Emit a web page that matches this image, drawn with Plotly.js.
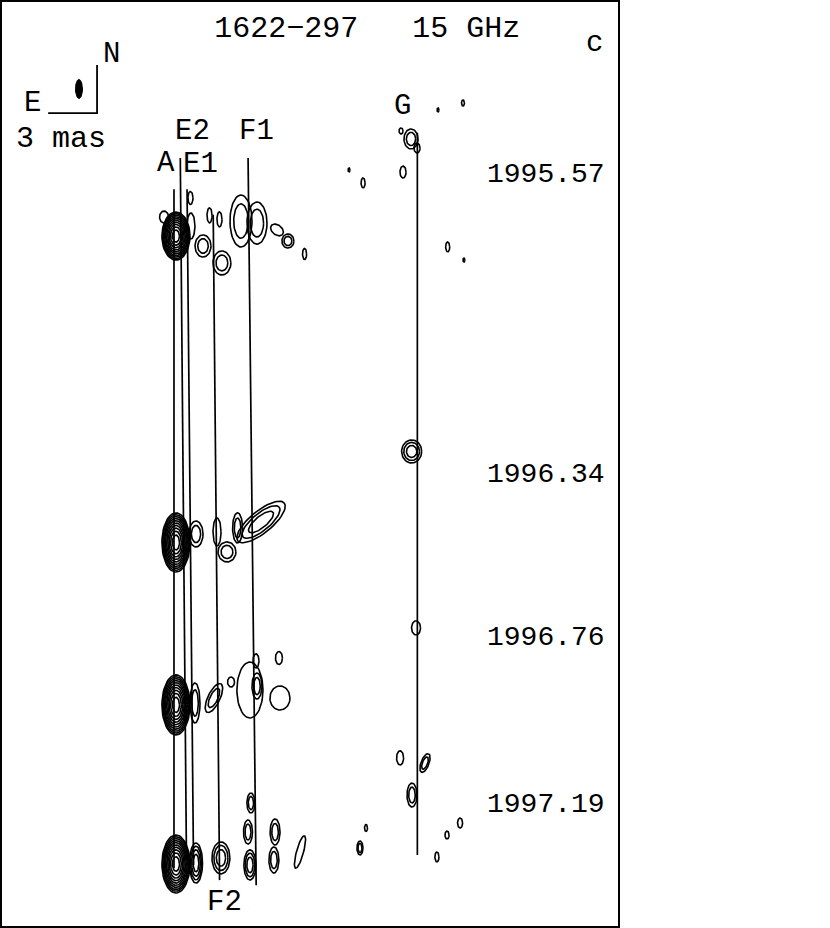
<!DOCTYPE html>
<html>
<head>
<meta charset="utf-8">
<script src="https://cdn.plot.ly/plotly-3.0.1.min.js"></script>
<style>html,body{margin:0;padding:0;background:#fff;}#chart{width:830px;height:928px;}</style>
</head>
<body>
<div id="chart"></div>
<script>
// ---- data (RA offset east-positive in mas, Dec offset in mas, epoch in years) ----
const epochs = [1995.57, 1996.34, 1996.76, 1997.19];
const epochLabels = ['1995.57', '1996.34', '1996.76', '1997.19'];

// component tracks: RA at first and last epoch, and time extent of drawn track
const compNames = ['A', 'E2', 'E1', 'F2', 'F1', 'G'];
const raFirst   = [0.00, -0.43, -0.83, -2.42, -4.60, -14.93];
const raLast    = [0.00, -0.77, -1.20, -2.79, -5.03, -14.93];
const trackFrom = [1995.442, 1995.362, 1995.442, 1995.508, 1995.362, 1995.297];
const trackTo   = [1997.189, 1997.168, 1997.181, 1997.220, 1997.233, 1997.155];

// contour components per epoch: [RA, Dec, width, height, angle(deg), contour levels]
const blobs1995_57 = [
  [-0.12, 0.18, 1.72, 3.00, 0, 10], [0.61, 1.37, 0.55, 0.75, 0, 1], [-1.04, 0.81, 0.49, 1.62, 0, 1],
  [-1.01, 2.56, 0.31, 0.81, 0, 1], [-2.18, 1.47, 0.31, 0.94, 0, 1], [-2.79, 1.22, 0.31, 0.94, 0, 1],
  [-1.78, -0.44, 0.98, 1.38, 0, 2], [-2.94, -1.50, 1.10, 1.50, 0, 2], [-4.11, 1.12, 1.35, 3.25, 0, 2],
  [-5.09, 0.99, 1.23, 2.63, 0, 2], [-6.32, 0.56, 0.88, 0.61, -40, 1], [-6.99, -0.13, 0.74, 0.88, 0, 2],
  [-8.01, -0.94, 0.25, 0.69, 0, 1], [-11.60, 3.50, 0.25, 0.62, 0, 1], [-14.05, 4.18, 0.37, 0.75, 0, 1],
  [-14.54, 6.25, 0.86, 1.25, 0, 2], [-13.93, 6.75, 0.25, 0.38, 0, 1], [-14.91, 5.68, 0.37, 0.62, 0, 1],
  [-17.73, 8.50, 0.18, 0.38, 0, 1], [-16.79, -0.50, 0.25, 0.62, 0, 1], [-10.74, 4.31, 0.12, 0.25, 0, 1],
  [-16.20, 8.06, 0.12, 0.25, 0, 1], [-17.79, -1.32, 0.12, 0.25, 0, 1]
];
const blobs1996_34 = [
  [-0.12, -0.27, 1.72, 3.69, 0, 10], [-1.35, 0.26, 0.86, 1.62, 0, 2], [-2.64, 0.39, 0.49, 1.75, 0, 1],
  [-3.25, -0.86, 1.10, 1.25, 0, 2], [-3.90, 0.64, 0.61, 1.88, 0, 2], [-5.34, 1.01, 3.70, 1.36, 40, 3],
  [-14.58, 5.42, 1.23, 1.44, 0, 3]
];
const blobs1996_76 = [
  [-0.12, -0.22, 1.72, 3.75, 0, 10], [-1.29, -0.10, 0.61, 2.50, 0, 2], [-2.45, 0.21, 1.97, 0.74, 65, 2],
  [-3.50, 1.21, 0.43, 0.62, 0, 1], [-4.66, 0.71, 1.60, 3.50, 0, 1], [-5.09, 0.96, 0.61, 1.62, 0, 2],
  [-5.03, 2.53, 0.37, 0.88, 0, 1], [-6.50, 0.21, 1.23, 1.50, 0, 1], [-6.44, 2.71, 0.43, 0.81, 0, 1],
  [-14.85, 4.59, 0.55, 0.88, 0, 1]
];
const blobs1997_19 = [
  [-0.12, 0.28, 1.72, 3.62, 0, 10], [-1.35, 0.34, 0.80, 2.50, 0, 4], [-2.88, 0.66, 1.10, 2.00, 0, 3],
  [-4.72, 4.09, 0.49, 1.25, 0, 2], [-4.54, 2.28, 0.55, 1.50, 0, 2], [-4.66, 0.22, 0.74, 1.88, 0, 3],
  [-6.20, 2.28, 0.61, 1.62, 0, 2], [-6.13, 0.53, 0.61, 1.62, 0, 2], [-7.73, 1.03, 2.10, 0.43, 75, 1],
  [-11.78, 2.53, 0.18, 0.44, 0, 1], [-11.41, 1.28, 0.37, 0.88, 0, 2], [-13.87, 6.91, 0.43, 0.88, 0, 1],
  [-15.40, 6.59, 1.23, 0.49, 70, 2], [-14.60, 4.59, 0.61, 1.50, 0, 2], [-17.55, 2.84, 0.31, 0.62, 0, 1],
  [-16.75, 2.09, 0.25, 0.50, 0, 1], [-16.13, 0.72, 0.25, 0.62, 0, 1]
];
const blobsByEpoch = [blobs1995_57, blobs1996_34, blobs1996_76, blobs1997_19];

// restoring beam (mas) and scale bar length (mas)
const beamMaj = 1.19, beamMin = 0.43;
const scaleBarMas = 3;

// ---- layout constants ----
const decToYear = 16 / 388.6;        // vertical map scale: years per mas of declination
const xRange = [10.613, -27.301];    // RA axis (east to the left)
const yRange = [1997.3406, 1994.9577];
const FONT = 'Liberation Mono, DejaVu Sans Mono, monospace';

function ellipsePts(ra, dec, ep, w, h, angDeg, out) {
  const a = angDeg * Math.PI / 180, N = 56;
  for (let i = 0; i <= N; i++) {
    const t = 2 * Math.PI * i / N;
    const dx = (w / 2) * Math.cos(t) * Math.cos(a) - (h / 2) * Math.sin(t) * Math.sin(a);
    const dy = (w / 2) * Math.cos(t) * Math.sin(a) + (h / 2) * Math.sin(t) * Math.cos(a);
    out.x.push(ra - dx);
    out.y.push(ep - (dec + dy) * decToYear);
  }
  out.x.push(null); out.y.push(null);
}

const cont = {x: [], y: []};
blobsByEpoch.forEach((list, ei) => {
  list.forEach(b => {
    const [ra, dec, w, h, ang, n] = b;
    for (let i = 0; i < n; i++) {
      const s = Math.pow(1 - i / n, 0.6);
      ellipsePts(ra, dec, epochs[ei], w * s, h * s, ang, cont);
    }
  });
});

// tracks, linear in time between first and last epoch
const e0 = epochs[0], e1 = epochs[epochs.length - 1];
const trk = {x: [], y: []};
compNames.forEach((c, i) => {
  const raAt = t => raFirst[i] + (raLast[i] - raFirst[i]) * (t - e0) / (e1 - e0);
  trk.x.push(raAt(trackFrom[i]), raAt(trackTo[i]), null);
  trk.y.push(trackFrom[i], trackTo[i], null);
});

// beam + scale bar (placed in the upper-left corner)
const cornerRA = 4.72, cornerT = 1995.246;
const beam = {x: [], y: []};
ellipsePts(5.83, 0, 1995.184, beamMin, beamMaj, 0, beam);
beam.x.pop(); beam.y.pop();

const traces = [
  {type: 'scatter', mode: 'lines', x: cont.x, y: cont.y, line: {color: '#000', width: 1.6}, hoverinfo: 'skip', connectgaps: false},
  {type: 'scatter', mode: 'lines', x: trk.x, y: trk.y, line: {color: '#000', width: 1.7}, hoverinfo: 'skip'},
  {type: 'scatter', mode: 'lines', x: beam.x, y: beam.y, fill: 'toself', fillcolor: '#000', line: {color: '#000', width: 1}, hoverinfo: 'skip'},
  {type: 'scatter', mode: 'lines',
   x: [cornerRA + scaleBarMas, cornerRA, cornerRA],
   y: [cornerT, cornerT, cornerT - scaleBarMas * decToYear],
   line: {color: '#000', width: 1.8}, hoverinfo: 'skip'}
];

// label offsets (pixels) relative to the top (or bottom for F2) of each track
const labelShift = {A: [-8, 26], E2: [12, 27], E1: [13, 25], F2: [5, -22], F1: [8, 27], G: [-15, 26]};
const annotations = [];
compNames.forEach((c, i) => {
  const atBottom = c === 'F2';
  const t = atBottom ? trackTo[i] : trackFrom[i];
  const raAt = raFirst[i] + (raLast[i] - raFirst[i]) * (t - e0) / (e1 - e0);
  annotations.push({x: raAt, y: t, xref: 'x', yref: 'y', text: c, showarrow: false,
    xanchor: 'center', yanchor: 'middle', xshift: labelShift[c][0], yshift: labelShift[c][1],
    font: {family: FONT, size: 29, color: '#000'}});
});
epochLabels.forEach((lab, i) => {
  annotations.push({x: -22.85, y: epochs[i], xref: 'x', yref: 'y', text: lab, showarrow: false,
    xanchor: 'center', yanchor: 'middle', yshift: 64, font: {family: FONT, size: 28, color: '#000'}});
});
annotations.push(
  {x: 0.961, y: 0.9536, xref: 'paper', yref: 'paper', text: 'c', showarrow: false, xanchor: 'center', yanchor: 'middle', font: {family: FONT, size: 29, color: '#000'}},
  {x: 0.178, y: 0.9417, xref: 'paper', yref: 'paper', text: 'N', showarrow: false, xanchor: 'center', yanchor: 'middle', font: {family: FONT, size: 29, color: '#000'}},
  {x: 0.0502, y: 0.8898, xref: 'paper', yref: 'paper', text: 'E', showarrow: false, xanchor: 'center', yanchor: 'middle', font: {family: FONT, size: 29, color: '#000'}},
  {x: 0.0971, y: 0.851, xref: 'paper', yref: 'paper', text: '3 mas', showarrow: false, xanchor: 'center', yanchor: 'middle', font: {family: FONT, size: 30, color: '#000'}}
);

const layout = {
  width: 830, height: 928,
  margin: {l: 1, r: 211, t: 1, b: 1, pad: 0},
  paper_bgcolor: '#fff', plot_bgcolor: '#fff',
  showlegend: false,
  title: {text: '1622\u2212297   15 GHz', x: 0.4425, xanchor: 'center', y: 0.9718, yanchor: 'middle',
          font: {family: FONT, size: 30, color: '#000'}},
  xaxis: {range: xRange, visible: false, fixedrange: true},
  yaxis: {range: yRange, visible: false, fixedrange: true},
  shapes: [{type: 'rect', xref: 'paper', yref: 'paper', x0: 0, x1: 1, y0: 0, y1: 1,
            line: {color: '#000', width: 2}}],
  annotations: annotations
};

Plotly.newPlot('chart', traces, layout, {staticPlot: true, displayModeBar: false});
</script>
</body>
</html>
